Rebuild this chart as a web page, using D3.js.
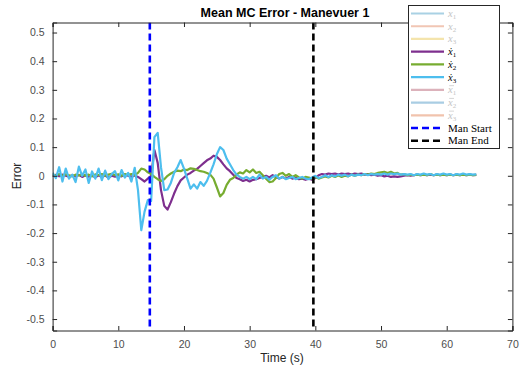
<!DOCTYPE html>
<html>
<head>
<meta charset="utf-8">
<script src="https://cdn.jsdelivr.net/npm/d3@7"></script>
<style>
  html, body { margin: 0; padding: 0; background: #fff; }
  svg { display: block; }
</style>
</head>
<body>
<svg id="chart" width="521" height="371"></svg>
<script>
// Sample times (s)
const times = [
  0, 0.5, 1, 1.5, 2, 2.5, 3, 3.5, 4, 4.5, 5, 5.5, 6, 6.5, 7, 7.5, 8, 8.5, 9, 9.5,
  10, 10.5, 11, 11.5, 12, 12.5, 13, 13.5, 14, 14.5, 15, 15.5, 16, 16.5, 17, 17.5, 18, 18.5, 19, 19.5,
  20, 20.5, 21, 21.5, 22, 22.5, 23, 23.5, 24, 24.5, 25, 25.5, 26, 26.5, 27, 27.5, 28, 28.5, 29, 29.5,
  30, 30.5, 31, 31.5, 32, 32.5, 33, 33.5, 34, 34.5, 35, 35.5, 36, 36.5, 37, 37.5, 38, 38.5, 39, 39.5,
  40, 40.5, 41, 41.5, 42, 42.5, 43, 43.5, 44, 44.5, 45, 45.5, 46, 46.5, 47, 47.5, 48, 48.5, 49, 49.5,
  50, 50.5, 51, 51.5, 52, 52.5, 53, 53.5, 54, 54.5, 55, 55.5, 56, 56.5, 57, 57.5, 58, 58.5, 59, 59.5,
  60, 60.5, 61, 61.5, 62, 62.5, 63, 63.5, 64, 64.5
];

// Mean error of x-dot 1
const xdot1 = [
  0.000, 0.003, -0.002, 0.004, 0.000, -0.003, 0.002, -0.002, 0.003, -0.004,
  0.002, -0.003, 0.001, -0.005, 0.002, -0.004, 0.001, -0.006, 0.000, -0.003,
  0.002, -0.002, 0.003, 0.000, -0.003, 0.001, -0.004, -0.012, -0.020, -0.010,
  0.000, 0.090, 0.045, -0.050, -0.105, -0.118, -0.092, -0.062, -0.036, -0.016,
  -0.006, 0.004, 0.010, 0.018, 0.024, 0.034, 0.044, 0.054, 0.060, 0.070,
  0.066, 0.055, 0.040, 0.026, 0.016, 0.004, -0.008, -0.012, -0.018, -0.014,
  -0.020, -0.014, -0.012, -0.008, -0.004, 0.000, -0.006, 0.002, -0.004, -0.010,
  -0.004, -0.010, -0.004, -0.010, -0.006, -0.012, -0.010, -0.014, -0.010, -0.014,
  -0.008, 0.002, 0.006, 0.004, 0.008, 0.006, 0.008, 0.004, 0.008, 0.006,
  0.008, 0.004, 0.008, 0.006, 0.008, 0.004, 0.006, 0.002, 0.004, 0.000,
  0.002, -0.002, 0.000, -0.004, -0.002, -0.004, -0.002, 0.000, 0.002, 0.000,
  0.002, 0.004, 0.002, 0.004, 0.002, 0.004, 0.002, 0.004, 0.002, 0.004,
  0.002, 0.004, 0.002, 0.004, 0.002, 0.004, 0.002, 0.004, 0.002, 0.003
];

// Mean error of x-dot 2
const xdot2 = [
  0.004, 0.001, 0.006, 0.000, 0.005, 0.002, -0.002, 0.004, 0.001, 0.006,
  0.000, 0.004, -0.002, 0.005, 0.002, 0.006, 0.000, 0.004, 0.007, 0.002,
  0.005, 0.000, 0.006, 0.003, 0.006, 0.002, 0.010, 0.025, 0.022, 0.012,
  0.006, -0.004, -0.012, -0.018, -0.012, 0.000, 0.008, 0.014, 0.018, 0.016,
  0.022, 0.020, 0.026, 0.024, 0.020, 0.016, 0.014, 0.010, 0.004, -0.010,
  -0.040, -0.072, -0.060, -0.032, -0.014, -0.008, 0.004, 0.012, 0.008, 0.020,
  0.012, 0.022, 0.010, 0.014, 0.002, -0.010, -0.022, -0.020, -0.008, 0.006,
  0.010, 0.000, 0.006, -0.004, 0.002, -0.006, -0.010, -0.004, -0.006, -0.010,
  -0.004, -0.010, -0.006, -0.002, -0.006, 0.000, -0.004, 0.002, -0.004, 0.000,
  -0.002, 0.004, 0.000, 0.004, 0.002, 0.006, 0.004, 0.008, 0.006, 0.010,
  0.012, 0.014, 0.010, 0.014, 0.008, 0.010, 0.004, 0.006, 0.002, 0.004,
  0.002, 0.004, 0.002, 0.004, 0.002, 0.006, 0.002, 0.004, 0.002, 0.004,
  0.002, 0.004, 0.002, 0.004, 0.002, 0.004, 0.002, 0.004, 0.002, 0.003
];

// Mean error of x-dot 3
const xdot3 = [
  0.010, -0.008, 0.030, -0.020, 0.025, -0.010, 0.004, -0.022, 0.032, 0.000,
  0.022, -0.025, 0.015, -0.010, 0.025, -0.015, 0.018, -0.012, 0.006, 0.016,
  -0.016, 0.020, -0.006, 0.010, -0.020, 0.028, -0.050, -0.190, -0.125, -0.085,
  -0.088, 0.135, 0.150, 0.030, -0.050, -0.048, -0.025, 0.010, 0.030, 0.055,
  0.025, -0.010, -0.045, -0.030, -0.045, -0.022, -0.035, -0.018, 0.010, 0.040,
  0.075, 0.100, 0.090, 0.060, 0.040, 0.020, 0.004, -0.004, -0.010, -0.004,
  -0.012, -0.004, -0.012, 0.004, -0.010, -0.004, -0.014, -0.004, 0.002, -0.010,
  -0.004, -0.012, -0.008, -0.004, -0.012, -0.008, -0.004, -0.010, -0.012, -0.006,
  0.000, -0.008, -0.004, 0.002, -0.004, 0.002, -0.002, 0.004, 0.000, 0.004,
  -0.002, 0.004, 0.000, 0.004, 0.002, 0.006, 0.002, 0.006, 0.004, 0.006,
  0.004, 0.008, 0.004, 0.008, 0.006, 0.008, 0.004, 0.006, 0.004, 0.006,
  0.002, 0.006, 0.004, 0.008, 0.004, 0.006, 0.002, 0.006, 0.004, 0.008,
  0.004, 0.006, 0.002, 0.006, 0.004, 0.008, 0.004, 0.006, 0.004, 0.005
];

// Maneuver start / end times (s)
const manStart = 14.8;
const manEnd = 39.7;

// Axis ticks
const xTicks = [0, 10, 20, 30, 40, 50, 60, 70];
const yTicks = [-0.5, -0.4, -0.3, -0.2, -0.1, 0, 0.1, 0.2, 0.3, 0.4, 0.5];

// Legend entries
const legendLabels = ["x1", "x2", "x3", "xd1", "xd2", "xd3", "xb1", "xb2", "xb3", "Man Start", "Man End"];
const legendColors = ["#a9d1e4", "#f1c6b4", "#f4e4ac", "#7e2f8e", "#77ac30", "#4dbeee", "#dcb2bb", "#a9cde3", "#f1c3ad", "#0000ff", "#000000"];
const legendFaded = [true, true, true, false, false, false, true, true, true, false, false];

const svg = d3.select("#chart");
const axisColor = "#262626";
const tickText = "#4d4d4d";
const sans = "'Liberation Sans', Arial, sans-serif";

const x = d3.scaleLinear().domain([0, 70]).range([52.6, 512.4]);
const y = d3.scaleLinear().domain([-0.54, 0.535]).range([330.5, 22.5]);

// clip to axes box
svg.append("defs").append("clipPath").attr("id", "clip")
  .append("rect").attr("x", x(0)).attr("y", y(0.535))
  .attr("width", x(70) - x(0)).attr("height", y(-0.54) - y(0.535));

const series = [
  { values: xdot1, color: legendColors[3] },
  { values: xdot2, color: legendColors[4] },
  { values: xdot3, color: legendColors[5] }
];

const line = d3.line()
  .x((d, i) => x(times[i]))
  .y(d => y(d));

const lines = svg.append("g").attr("clip-path", "url(#clip)");
series.forEach(s => {
  lines.append("path")
    .datum(s.values)
    .attr("d", line)
    .attr("fill", "none")
    .attr("stroke", s.color)
    .attr("stroke-width", 2.2)
    .attr("stroke-linejoin", "round");
});

// maneuver markers
[[manStart, "#0000ff"], [manEnd, "#000000"]].forEach(([t, c]) => {
  lines.append("line")
    .attr("x1", x(t)).attr("x2", x(t))
    .attr("y1", y(0.535)).attr("y2", y(-0.54))
    .attr("stroke", c)
    .attr("stroke-width", 2.6)
    .attr("stroke-dasharray", "7,4");
});

// axes box with inward ticks
const axisBottom = d3.axisBottom(x).tickValues(xTicks).tickSize(-4.5).tickPadding(10).tickFormat(d3.format("d"));
const axisTop = d3.axisTop(x).tickValues(xTicks).tickSize(-4.5).tickFormat("");
const axisLeft = d3.axisLeft(y).tickValues(yTicks).tickSize(-4.5).tickPadding(8)
  .tickFormat(d => d === 0 ? "0" : d3.format(".1f")(d).replace("\u2212", "-"));
const axisRight = d3.axisRight(y).tickValues(yTicks).tickSize(-4.5).tickFormat("");

function style(g) {
  g.select(".domain").attr("stroke", axisColor).attr("stroke-width", 1);
  g.selectAll(".tick line").attr("stroke", axisColor).attr("stroke-width", 1);
  g.selectAll(".tick text").attr("fill", tickText)
    .style("font-family", sans).style("font-size", "10.5px");
}

svg.append("g").attr("transform", `translate(0,${y(-0.54)})`).call(axisBottom).call(style);
svg.append("g").attr("transform", `translate(0,${y(0.535)})`).call(axisTop).call(style);
svg.append("g").attr("transform", `translate(${x(0)},0)`).call(axisLeft).call(style);
svg.append("g").attr("transform", `translate(${x(70)},0)`).call(axisRight).call(style);

// title and axis labels
svg.append("text")
  .attr("x", 285).attr("y", 17)
  .attr("text-anchor", "middle")
  .style("font-family", sans)
  .style("font-size", "12.5px").style("font-weight", "bold")
  .attr("fill", "#000")
  .text("Mean MC Error - Manevuer 1");

svg.append("text")
  .attr("x", 282).attr("y", 362)
  .attr("text-anchor", "middle")
  .style("font-family", sans)
  .style("font-size", "12px")
  .attr("fill", axisColor)
  .text("Time (s)");

svg.append("text")
  .attr("transform", "translate(21,176) rotate(-90)")
  .attr("text-anchor", "middle")
  .style("font-family", sans)
  .style("font-size", "12px")
  .attr("fill", axisColor)
  .text("Error");

// legend
const lg = svg.append("g");
lg.append("rect")
  .attr("x", 408.5).attr("y", 5.5).attr("width", 91).attr("height", 143)
  .attr("fill", "#fff").attr("stroke", axisColor).attr("stroke-width", 1);

const rowY = d3.scaleLinear().domain([0, 10]).range([13.5, 140.8]);
legendLabels.forEach((lab, i) => {
  const yy = rowY(i);
  const dashed = i >= 9;
  const textColor = legendFaded[i] ? "#c4c4c4" : "#000";
  lg.append("line")
    .attr("x1", 411).attr("x2", 444).attr("y1", yy).attr("y2", yy)
    .attr("stroke", legendColors[i])
    .attr("stroke-width", dashed ? 2.6 : 2.2)
    .attr("stroke-dasharray", dashed ? "7,4" : null);
  const t = lg.append("text")
    .attr("x", 448).attr("y", yy + 3.5)
    .style("font-family", "'Liberation Serif', 'Times New Roman', serif")
    .style("font-size", dashed ? "11px" : "10.5px")
    .attr("fill", textColor);
  if (dashed) {
    t.text(lab);
  } else {
    const kind = lab.slice(0, lab.length - 1);
    const idx = lab.slice(-1);
    const base = kind === "xd" ? "\u1E8B" : "x";
    t.append("tspan").style("font-style", "italic").text(base);
    t.append("tspan").attr("dy", 2).style("font-size", "7px").text(idx);
    if (kind === "xb") {
      // bar accent over the x
      lg.append("line")
        .attr("x1", 449.2).attr("x2", 454)
        .attr("y1", yy - 4.2).attr("y2", yy - 4.2)
        .attr("stroke", textColor).attr("stroke-width", 0.7);
    }
  }
});
</script>
</body>
</html>
